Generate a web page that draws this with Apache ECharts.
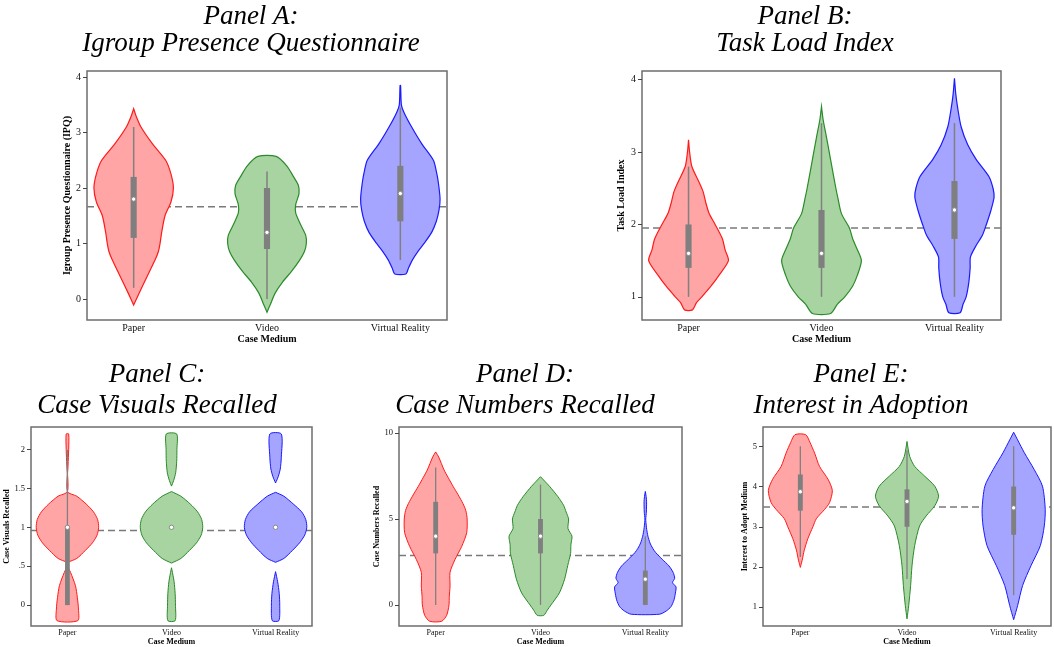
<!DOCTYPE html>
<html>
<head>
<meta charset="utf-8">
<title>Violin panels</title>
<script src="https://cdn.jsdelivr.net/npm/echarts@6/dist/echarts.min.js"></script>
<style>
  html, body { margin: 0; padding: 0; background: #fff; }
  #main { width: 1054px; height: 647px; }
</style>
</head>
<body>
<div id="main"></div>
<script>
var categories = ['Paper', 'Video', 'Virtual Reality'];

// violin outlines: [value, half-width in category units], null splits a lobe
// box stats: [whisker low, q1, median, q3, whisker high]

// Panel A - Igroup Presence Questionnaire
var ipqPaper = [[-0.11,0],[0.1,0.04],[0.4,0.1],[0.7,0.16],[0.85,0.185],[1.0,0.198],[1.2,0.21],[1.5,0.235],[1.75,0.28],[2.0,0.298],[2.25,0.28],[2.5,0.24],[2.8,0.14],[3.1,0.055],[3.3,0.018],[3.43,0]];
var ipqVideo = [[-0.24,0],[-0.1,0.025],[0.1,0.06],[0.3,0.115],[0.5,0.185],[0.7,0.245],[0.85,0.28],[1.0,0.295],[1.15,0.29],[1.35,0.25],[1.55,0.215],[1.7,0.215],[1.9,0.24],[2.05,0.235],[2.2,0.2],[2.4,0.148],[2.57,0.068]];
var ipqVR = [[0.45,0.042],[0.55,0.06],[0.7,0.09],[0.85,0.13],[1.0,0.178],[1.2,0.235],[1.4,0.27],[1.6,0.29],[1.8,0.298],[2.1,0.285],[2.3,0.27],[2.5,0.248],[2.8,0.16],[3.1,0.085],[3.35,0.03],[3.5,0.008],[3.85,0.002]];
var ipqBox = [[0.2,1.1,1.8,2.2,3.1],[0,0.9,1.2,2.0,2.3],[0.7,1.4,1.9,2.4,3.45]];
var ipqMean = 1.66;
var ipqTicks = [0,1,2,3,4];

// Panel B - Task Load Index
var tliPaper = [[0.82,0.03],[0.92,0.06],[1.0,0.1],[1.15,0.17],[1.3,0.23],[1.5,0.3],[1.65,0.275],[1.8,0.255],[2.0,0.2],[2.15,0.155],[2.3,0.13],[2.45,0.11],[2.6,0.075],[2.8,0.025],[3.0,0.008],[3.17,0]];
var tliVideo = [[0.77,0.068],[0.9,0.12],[1.0,0.175],[1.15,0.235],[1.3,0.27],[1.5,0.3],[1.65,0.27],[1.8,0.235],[1.95,0.21],[2.15,0.15],[2.35,0.125],[2.5,0.108],[2.9,0.068],[3.2,0.038],[3.45,0.012],[3.63,0]];
var tliVR = [[0.78,0.042],[0.9,0.065],[1.0,0.088],[1.2,0.108],[1.4,0.118],[1.55,0.12],[1.7,0.16],[1.85,0.21],[2.0,0.24],[2.2,0.275],[2.38,0.298],[2.5,0.29],[2.66,0.26],[2.9,0.163],[3.1,0.1],[3.35,0.05],[3.6,0.025],[3.8,0.01],[4.02,0]];
var tliBox = [[1.0,1.4,1.6,2.0,2.8],[1.0,1.4,1.6,2.2,3.4],[1.0,1.8,2.2,2.6,3.4]];
var tliMean = 1.95;
var tliTicks = [1,2,3,4];

// Panel C - Case Visuals Recalled
var visPaper = [[-0.2,0.1],[-0.05,0.106],[0.1,0.095],[0.25,0.077],[0.42,0.03],[0.5,0],null,[0.55,0],[0.6,0.09],[0.7,0.17],[0.8,0.24],[0.9,0.285],[1.0,0.3],[1.1,0.29],[1.2,0.25],[1.3,0.18],[1.4,0.09],[1.46,0],[1.8,0.006],[2.0,0.012],[2.2,0.012]];
var visVideo = [[-0.2,0.035],[0,0.038],[0.15,0.035],[0.3,0.025],[0.4,0.012],[0.48,0],null,[0.54,0],[0.6,0.09],[0.7,0.17],[0.8,0.24],[0.9,0.285],[1.0,0.3],[1.1,0.29],[1.2,0.25],[1.3,0.18],[1.4,0.09],[1.46,0],null,[1.53,0],[1.6,0.02],[1.7,0.04],[1.85,0.05],[2.0,0.052],[2.2,0.05]];
var visVR = [[-0.2,0.032],[0,0.04],[0.15,0.035],[0.3,0.02],[0.43,0],null,[0.55,0],[0.6,0.08],[0.7,0.16],[0.8,0.23],[0.9,0.28],[1.0,0.3],[1.1,0.29],[1.2,0.25],[1.3,0.17],[1.4,0.08],[1.45,0],null,[1.57,0],[1.65,0.025],[1.75,0.045],[1.9,0.055],[2.2,0.055]];
var visBox = [[0,0,1,1,2],[1,1,1,1,1],[1,1,1,1,1]];
var visMean = 0.96;
var visTicks = [0,0.5,1,1.5,2];

// Panel D - Case Numbers Recalled
var numPaper = [[-0.95,0.057],[-0.6,0.105],[0,0.127],[0.5,0.13],[1.1,0.137],[1.9,0.137],[2.65,0.185],[3.4,0.248],[4.2,0.296],[5.0,0.3],[5.5,0.287],[5.9,0.26],[6.4,0.215],[6.9,0.166],[7.4,0.12],[7.85,0.08],[8.6,0.029],[8.9,0]];
var numVideo = [[-0.6,0.032],[-0.3,0.065],[0,0.1],[0.7,0.18],[1.5,0.23],[2.3,0.26],[3.0,0.287],[3.5,0.29],[4.0,0.3],[4.45,0.262],[5.0,0.268],[5.4,0.245],[5.8,0.22],[6.3,0.166],[6.9,0.086],[7.2,0.04],[7.46,0]];
var numVR = [[-0.54,0.134],[-0.35,0.2],[-0.1,0.245],[0.3,0.274],[0.8,0.29],[1.05,0.293],[1.3,0.26],[1.55,0.28],[1.9,0.265],[2.27,0.226],[2.65,0.162],[3.04,0.1],[3.3,0.07],[3.6,0.045],[4.0,0.025],[4.4,0.013],[4.8,0.006],[5.0,0.004],[5.4,0.01],[6.0,0.012],[6.3,0.008],[6.6,0]];
var numBox = [[0,3,4,6,8],[0,3,4,5,7],[0,0,1.5,2,4]];
var numMean = 2.88;
var numTicks = [0,5,10];

// Panel E - Interest in Adoption
var adoptPaper = [[1.99,0],[2.2,0.02],[2.4,0.035],[2.7,0.07],[3.0,0.118],[3.2,0.15],[3.43,0.227],[3.6,0.274],[3.9,0.3],[4.18,0.26],[4.5,0.18],[4.83,0.134],[5.1,0.09],[5.29,0.05]];
var adoptVideo = [[0.71,0],[1.04,0.016],[1.54,0.034],[2.03,0.047],[2.53,0.072],[3.02,0.118],[3.27,0.18],[3.52,0.26],[3.76,0.296],[4.01,0.26],[4.26,0.165],[4.5,0.072],[4.75,0.025],[5.12,0]];
var adoptVR = [[0.69,0],[1.04,0.037],[1.54,0.084],[2.03,0.162],[2.53,0.25],[3.02,0.287],[3.43,0.296],[4.01,0.27],[4.42,0.193],[4.84,0.1],[5.16,0.037],[5.35,0]];
var adoptBox = [[2.25,3.4,3.87,4.3,5],[1.7,3,3.63,3.93,4.9],[1.3,2.8,3.47,4.0,5]];
var adoptMean = 3.49;
var adoptTicks = [1,2,3,4,5];

var palette = [
  {fill: '#ffa5a5', line: '#ff1a1a'},
  {fill: '#a8d4a1', line: '#2b8a2b'},
  {fill: '#a5a5ff', line: '#1a1aff'}
];
var serif = '"Liberation Serif", "Times New Roman", serif';
var xMin = 0.65, xMax = 3.35;

var panels = [
  {shapes: [ipqPaper, ipqVideo, ipqVR], box: ipqBox, mean: ipqMean, ticks: ipqTicks,
   title: ['Panel A:', 'Igroup Presence Questionnaire'], yName: 'Igroup Presence Questionnaire (IPQ)',
   grid: {left: 87, top: 71, width: 360, height: 249}, yMin: -0.38, yMax: 4.11,
   tx: 251, ty: [16.5, 44], fs: 10, nameGap: 15, lw: 1.2},
  {shapes: [tliPaper, tliVideo, tliVR], box: tliBox, mean: tliMean, ticks: tliTicks,
   title: ['Panel B:', 'Task Load Index'], yName: 'Task Load Index',
   grid: {left: 642, top: 71, width: 359, height: 249}, yMin: 0.68, yMax: 4.12,
   tx: 805, ty: [16.5, 44], fs: 10, nameGap: 16, lw: 1.2},
  {shapes: [visPaper, visVideo, visVR], box: visBox, mean: visMean, ticks: visTicks,
   title: ['Panel C:', 'Case Visuals Recalled'], yName: 'Case Visuals Recalled',
   grid: {left: 31, top: 427, width: 281, height: 200}, yMin: -0.27, yMax: 2.29,
   tx: 157, ty: [374.5, 405.5], fs: 8, nameGap: 19, lw: 1},
  {shapes: [numPaper, numVideo, numVR], box: numBox, mean: numMean, ticks: numTicks,
   title: ['Panel D:', 'Case Numbers Recalled'], yName: 'Case Numbers Recalled',
   grid: {left: 399, top: 427, width: 283, height: 200}, yMin: -1.23, yMax: 10.35,
   tx: 525, ty: [374.5, 405.5], fs: 8, nameGap: 16, lw: 1},
  {shapes: [adoptPaper, adoptVideo, adoptVR], box: adoptBox, mean: adoptMean, ticks: adoptTicks,
   title: ['Panel E:', 'Interest in Adoption'], yName: 'Interest to Adopt Medium',
   grid: {left: 763, top: 427, width: 288, height: 200}, yMin: 0.53, yMax: 5.48,
   tx: 861, ty: [374.5, 405.5], fs: 8, nameGap: 12, lw: 1}
];

function violinRenderer(p) {
  return function (params, api) {
    var k = params.dataIndex, cx = k + 1, col = palette[k];
    var children = [];
    var lobes = [[]];
    p.shapes[k].forEach(function (pt) {
      if (pt === null) lobes.push([]); else lobes[lobes.length - 1].push(pt);
    });
    lobes.forEach(function (lobe) {
      var pts = [];
      lobe.forEach(function (pt) { pts.push(api.coord([cx + pt[1], pt[0]])); });
      for (var j = lobe.length - 1; j >= 0; j--) pts.push(api.coord([cx - lobe[j][1], lobe[j][0]]));
      children.push({type: 'polygon', shape: {points: pts, smooth: 0.25},
        style: {fill: col.fill, stroke: col.line, lineWidth: p.lw}});
    });
    var b = p.box[k];
    var lo = api.coord([cx, b[0]]), hi = api.coord([cx, b[4]]);
    children.push({type: 'line', shape: {x1: lo[0], y1: lo[1], x2: hi[0], y2: hi[1]},
      style: {stroke: '#808080', lineWidth: p.lw + 0.3}});
    var c1 = api.coord([cx - 0.023, b[1]]), c3 = api.coord([cx + 0.023, b[3]]);
    children.push({type: 'rect', shape: {x: c1[0], y: c3[1], width: c3[0] - c1[0], height: c1[1] - c3[1]},
      style: {fill: '#7f7f7f'}});
    var m = api.coord([cx, b[2]]);
    children.push({type: 'circle', shape: {cx: m[0], cy: m[1], r: 2.2},
      style: {fill: '#ffffff', stroke: '#8a8a8a', lineWidth: 1}});
    return {type: 'group', children: children};
  };
}

var grids = [], xAxes = [], yAxes = [], series = [], graphics = [];
panels.forEach(function (p, i) {
  grids.push(Object.assign({show: true, borderColor: '#6e6e6e', borderWidth: 1.5, containLabel: false}, p.grid));
  xAxes.push({
    type: 'value', gridIndex: i, min: xMin, max: xMax,
    name: 'Case Medium', nameLocation: 'middle', nameGap: p.fs === 10 ? 14 : 10,
    nameTextStyle: {fontFamily: serif, fontWeight: 'bold', fontSize: p.fs, color: '#000'},
    axisLine: {show: false}, axisTick: {show: false}, splitLine: {show: false},
    axisLabel: {customValues: [1, 2, 3], margin: 3, fontFamily: serif, fontSize: p.fs, color: '#111',
      formatter: function (v) { return categories[Math.round(v) - 1]; }}
  });
  yAxes.push({
    type: 'value', gridIndex: i, min: p.yMin, max: p.yMax,
    name: p.yName, nameLocation: 'middle', nameGap: p.nameGap,
    nameTextStyle: {fontFamily: serif, fontWeight: 'bold', fontSize: p.fs, color: '#000'},
    axisLine: {show: false}, splitLine: {show: false},
    axisTick: {show: true, customValues: p.ticks, length: 4, lineStyle: {color: '#444', width: 1}},
    axisLabel: {customValues: p.ticks, margin: 6, fontFamily: serif, fontSize: p.fs === 10 ? 10 : 8.5, color: '#111',
      formatter: function (v) { return v === 0.5 ? '.5' : String(v); }}
  });
  series.push({
    type: 'line', xAxisIndex: i, yAxisIndex: i, silent: true, symbol: 'none', z: 1,
    data: [[xMin, p.mean], [xMax, p.mean]],
    lineStyle: {type: [7, 4], color: '#7a7a7a', width: 1.5}
  });
  series.push({
    type: 'custom', xAxisIndex: i, yAxisIndex: i, z: 3, silent: true,
    data: p.box.map(function (b, k) { return [k + 1, b[2]]; }),
    renderItem: violinRenderer(p)
  });
  p.title.forEach(function (line, j) {
    graphics.push({type: 'text', x: p.tx, y: p.ty[j], style: {text: line, textAlign: 'center', textVerticalAlign: 'middle',
      fontFamily: serif, fontStyle: 'italic', fontSize: 27, fill: '#000'}});
  });
});

var chart = echarts.init(document.getElementById('main'));
chart.setOption({
  animation: false,
  backgroundColor: '#ffffff',
  grid: grids,
  xAxis: xAxes,
  yAxis: yAxes,
  series: series,
  graphic: graphics
});
</script>
</body>
</html>
